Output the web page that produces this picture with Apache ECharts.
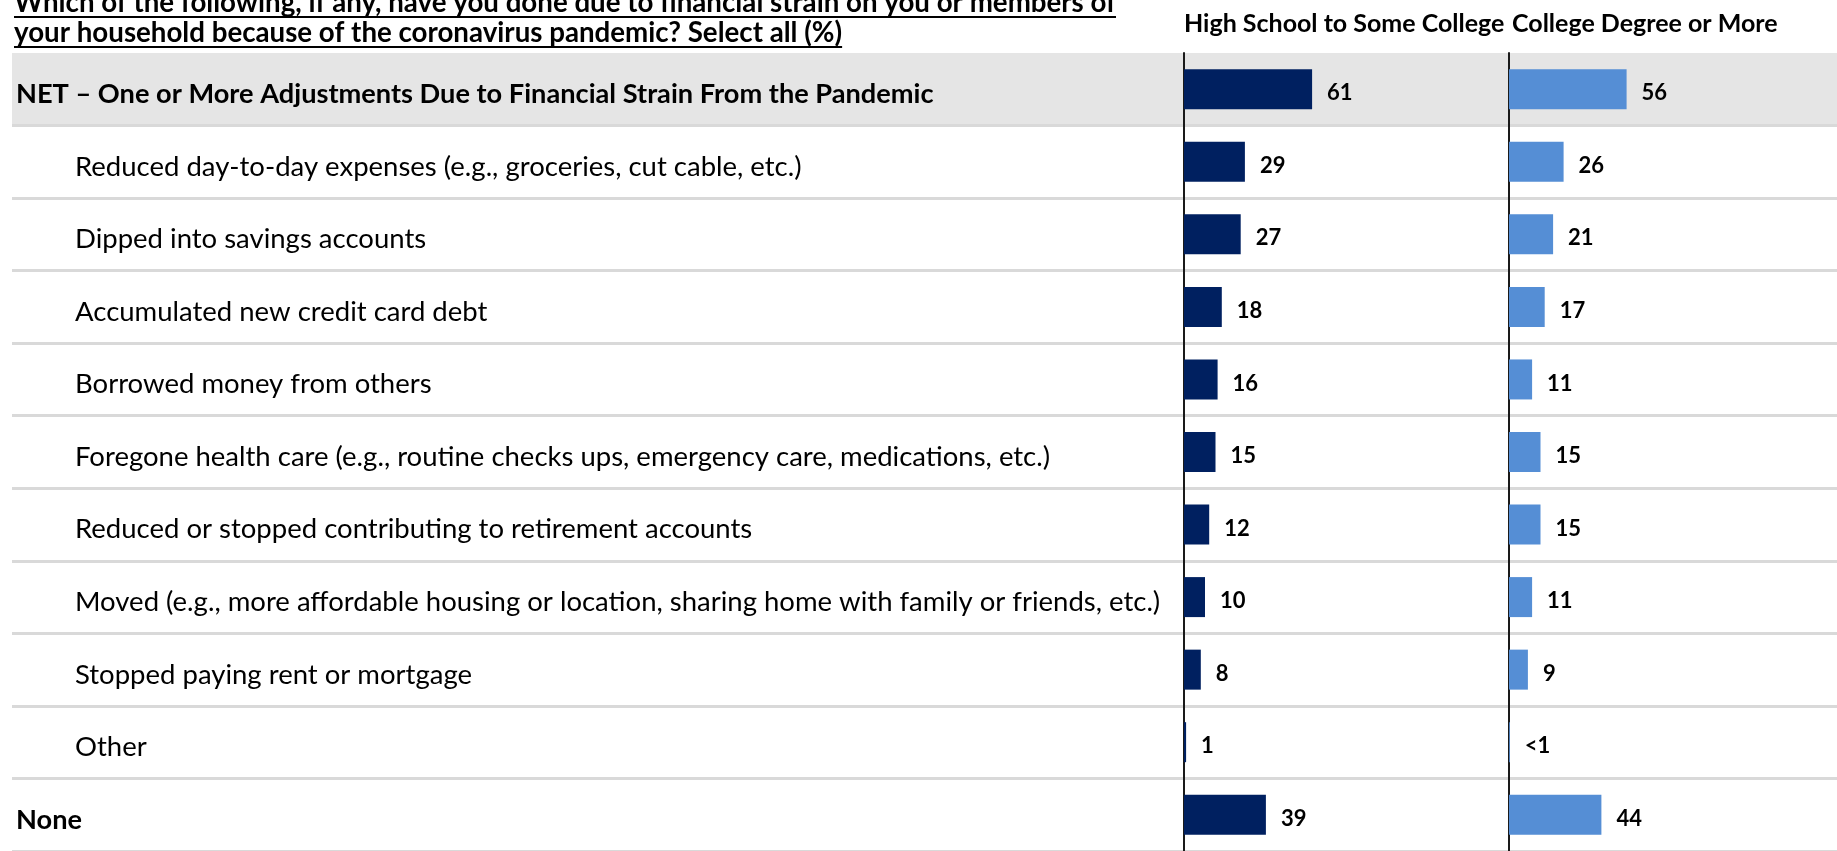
<!DOCTYPE html>
<html><head><meta charset="utf-8">
<script src="https://cdn.jsdelivr.net/npm/echarts@6/dist/echarts.min.js"></script>
<style>html,body{margin:0;padding:0;background:#fff}#c{width:1837px;height:851px}</style>
</head><body><div id="c"></div>
<script>
const categories = [
  "NET – One or More Adjustments Due to Financial Strain From the Pandemic",
  "Reduced day-to-day expenses (e.g., groceries, cut cable, etc.)",
  "Dipped into savings accounts",
  "Accumulated new credit card debt",
  "Borrowed money from others",
  "Foregone health care (e.g., routine checks ups, emergency care, medications, etc.)",
  "Reduced or stopped contributing to retirement accounts",
  "Moved (e.g., more affordable housing or location, sharing home with family or friends, etc.)",
  "Stopped paying rent or mortgage",
  "Other",
  "None"
];
const boldRows = [0, 10];
const seriesNames = ["High School to Some College", "College Degree or More"];
const highSchool = [61, 29, 27, 18, 16, 15, 12, 10, 8, 1, 39];
const college = [56, 26, 21, 17, 11, 15, 15, 11, 9, 0.4, 44];
const titleLines = [
  "Which of the following, if any, have you done due to financial strain on you or members of",
  "your household because of the coronavirus pandemic? Select all (%)"
];

const FONT = "Lato, 'Open Sans', sans-serif";
const W = 1837, TOP = 53, ROWH = 73, PXU = 2.1;
const AX1 = 1184, AX2 = 1509;
const H = ROWH * categories.length;

const chart = echarts.init(document.getElementById('c'), null, {renderer: 'canvas'});
const ctx = document.createElement('canvas').getContext('2d');
function tw(text, font) { ctx.font = font; return ctx.measureText(text).width; }

const titleFont = "bold 27.7px " + FONT;
const graphics = [];
const tMid = [3, 33];
const tUnder = [17, 47];
titleLines.forEach((t, i) => {
  graphics.push({type: 'text', silent: true,
    style: {text: t, x: 14, y: tMid[i], font: titleFont, fill: '#000', textVerticalAlign: 'middle', verticalAlign: 'middle'}});
  const w = tw(t, titleFont);
  graphics.push({type: 'line', silent: true,
    shape: {x1: 14, y1: tUnder[i], x2: 14 + w, y2: tUnder[i]},
    style: {stroke: '#000', lineWidth: 2}});
});
const headX = [AX1, 1512];
seriesNames.forEach((n, i) => {
  graphics.push({type: 'text', silent: true,
    style: {text: n, x: headX[i], y: 24, font: "bold 25px " + FONT, fill: '#000', textVerticalAlign: 'middle', verticalAlign: 'middle'}});
});

const bandColors = categories.map((c, i) => i === 0 ? '#e5e5e5' : 'rgba(0,0,0,0)');

function panelGrid(left, width) { return {left: left, top: TOP, width: width, height: H, containLabel: false}; }

const valueLabel = {show: true, position: 'right', distance: 15, offset: [0, 4],
  fontFamily: FONT, fontWeight: 'bold', fontSize: 22, color: '#000'};

const option = {
  animation: false,
  graphic: graphics,
  grid: [
    {left: 12, top: TOP, width: W - 12, height: H},
    panelGrid(AX1, AX2 - AX1),
    panelGrid(AX2, W - AX2)
  ],
  xAxis: [
    {gridIndex: 0, type: 'value', min: 0, max: 1, show: false},
    {gridIndex: 1, type: 'value', min: 0, max: (AX2 - AX1) / PXU, show: false},
    {gridIndex: 2, type: 'value', min: 0, max: (W - AX2) / PXU, show: false}
  ],
  yAxis: [
    {gridIndex: 0, type: 'category', inverse: true, data: categories,
      axisLine: {show: false}, axisTick: {show: false}, axisLabel: {show: false},
      splitLine: {show: true, showMinLine: false, lineStyle: {color: '#d9d9d9', width: 3}},
      splitArea: {show: true, areaStyle: {color: bandColors}}},
    {gridIndex: 1, type: 'category', inverse: true, data: categories,
      axisLine: {show: true, lineStyle: {color: '#1a1a1a', width: 2}}, axisTick: {show: false},
      splitLine: {show: false},
      axisLabel: {show: true, align: 'left', margin: AX1 - 16, interval: 0,
        formatter: (v, i) => boldRows.includes(i) ? '{b|' + v + '}' : '{n|' + v + '}',
        rich: {
          b: {fontFamily: FONT, fontWeight: 'bold', fontSize: 27.2, color: '#000', padding: [10, 0, 0, 0]},
          n: {fontFamily: FONT, fontSize: 27.5, color: '#000', padding: [10, 0, 0, 59]}
        }}},
    {gridIndex: 2, type: 'category', inverse: true, data: categories,
      axisLine: {show: true, lineStyle: {color: '#1a1a1a', width: 2}}, axisTick: {show: false},
      axisLabel: {show: false}, splitLine: {show: false}}
  ],
  series: [
    {type: 'bar', name: seriesNames[0], xAxisIndex: 1, yAxisIndex: 1, data: highSchool,
      barWidth: 40, itemStyle: {color: '#002060'}, label: valueLabel},
    {type: 'bar', name: seriesNames[1], xAxisIndex: 2, yAxisIndex: 2, data: college,
      barWidth: 40, itemStyle: {color: '#558ED5'},
      label: Object.assign({}, valueLabel, {formatter: p => p.value < 1 ? '<1' : String(p.value)})}
  ]
};
chart.setOption(option);
</script></body></html>
